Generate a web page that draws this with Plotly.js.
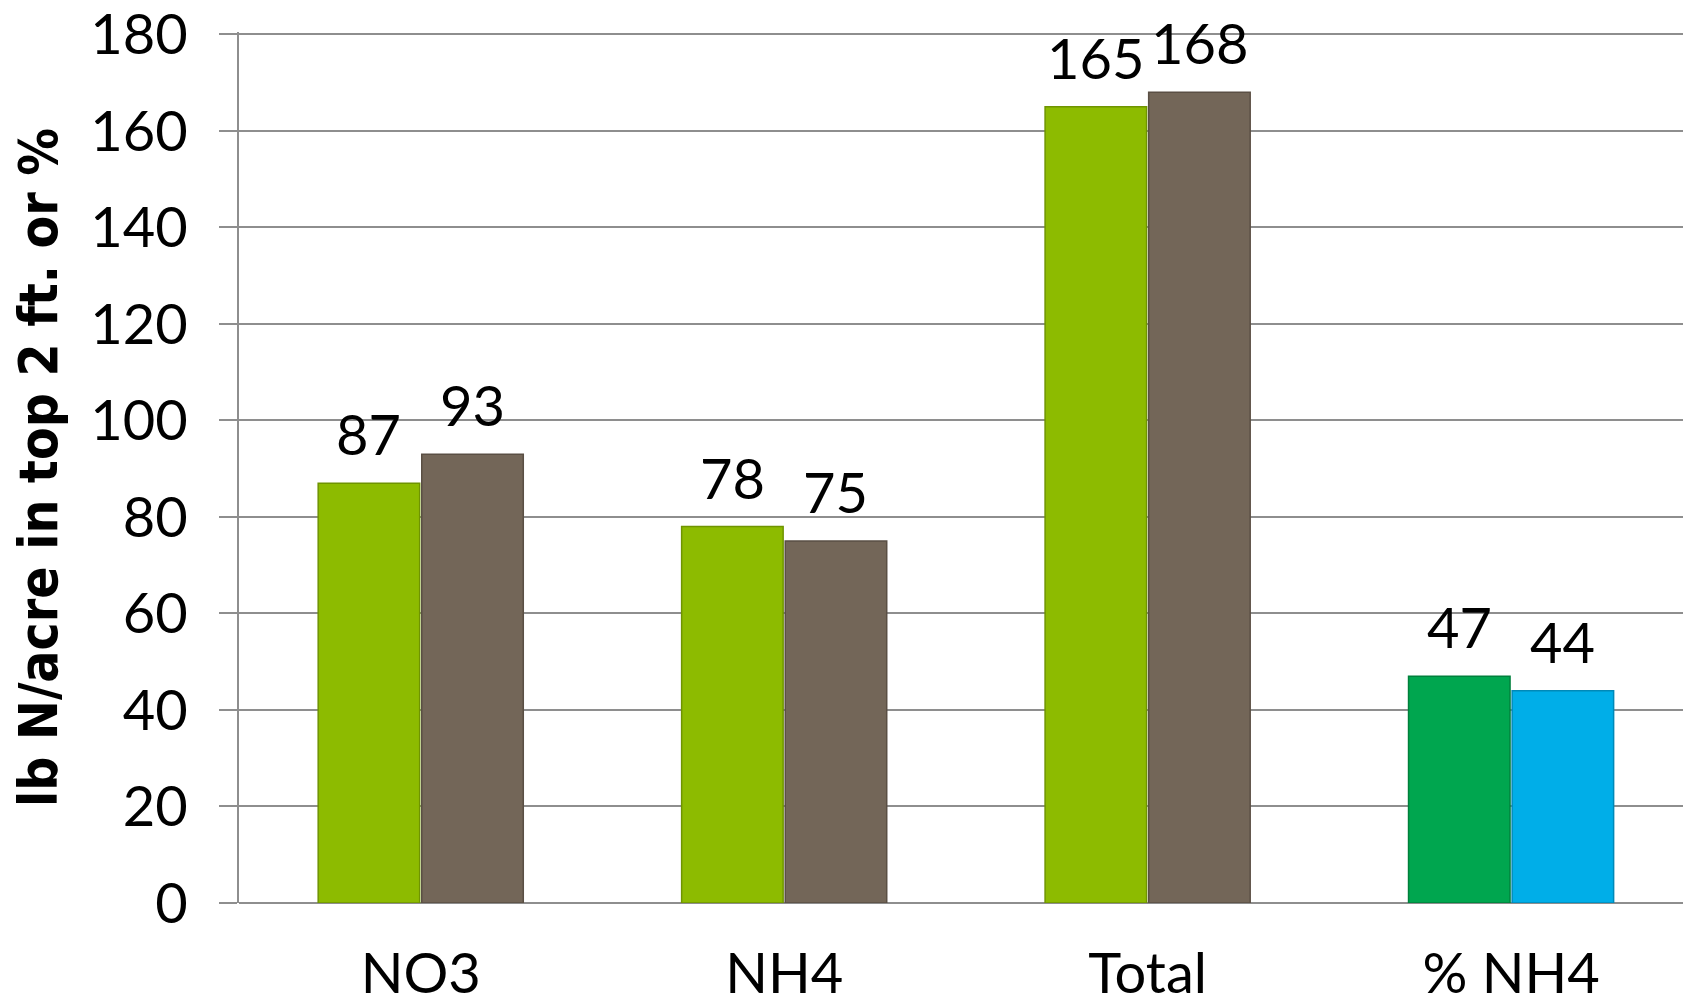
<!DOCTYPE html>
<html>
<head>
<meta charset="utf-8">
<script src="https://cdn.plot.ly/plotly-3.0.1.min.js"></script>
<style>
  html, body { margin: 0; padding: 0; background: #ffffff; }
  #chart { width: 1683px; height: 999px; }
</style>
</head>
<body>
<div id="chart"></div>
<script>
// Soil nitrogen in the top 2 ft: two sampling groups per measure
const categories = ['NO3', 'NH4', 'Total', '% NH4'];
const seriesA = [87, 78, 165, 47];
const seriesB = [93, 75, 168, 44];
const yTicks = [0, 20, 40, 60, 80, 100, 120, 140, 160, 180];

const colorsA = ['#8dbb00', '#8dbb00', '#8dbb00', '#00a64f'];
const colorsB = ['#736658', '#736658', '#736658', '#00aee8'];
const edgesA = ['#6f9400', '#6f9400', '#6f9400', '#00803c'];
const edgesB = ['#5a4f44', '#5a4f44', '#5a4f44', '#0089b8'];

const labelFont = { family: 'Lato, "Open Sans", sans-serif', size: 56, color: '#000000' };
const barGap = 0.43;

function barTrace(values, fill, edge) {
  return {
    type: 'bar',
    x: categories,
    y: values,
    marker: { color: fill, line: { color: edge, width: 1.5 } },
    hoverinfo: 'x+y',
    showlegend: false
  };
}

const data = [barTrace(seriesA, colorsA, edgesA), barTrace(seriesB, colorsB, edgesB)];

// value labels sit above each bar of the two-bar group
const halfStep = (1 - barGap) / 4;
const annotations = [];
[[seriesA, -halfStep], [seriesB, halfStep]].forEach(([values, shift]) => {
  values.forEach((v, i) => {
    annotations.push({
      x: i + shift, y: v, xref: 'x', yref: 'y',
      text: String(v), showarrow: false,
      xanchor: 'center', yanchor: 'bottom', yshift: 14,
      font: labelFont
    });
  });
});

const layout = {
  width: 1683,
  height: 999,
  margin: { l: 239, r: 0, t: 32, b: 96 },
  paper_bgcolor: '#ffffff',
  plot_bgcolor: '#ffffff',
  barmode: 'group',
  bargap: barGap,
  bargroupgap: 0.02,
  font: labelFont,
  annotations: annotations,
  xaxis: {
    type: 'category',
    range: [-0.5, 3.473],
    showgrid: false,
    showline: false,
    zeroline: false,
    ticks: '',
    ticklabelstandoff: 33,
    ticklabeloverflow: 'allow',
    tickfont: labelFont
  },
  yaxis: {
    range: [0, 180.5],
    tickvals: yTicks,
    showgrid: true,
    gridcolor: '#8e8e8e',
    gridwidth: 2,
    showline: true,
    linecolor: '#8e8e8e',
    linewidth: 2,
    zeroline: true,
    zerolinecolor: '#8e8e8e',
    zerolinewidth: 2,
    ticks: 'outside',
    ticklen: 18,
    tickwidth: 2,
    tickcolor: '#8e8e8e',
    ticklabelstandoff: 20,
    ticklabeloverflow: 'allow',
    tickfont: labelFont,
    title: {
      text: 'lb N/acre in top 2 ft. or %',
      font: { family: '"Liberation Sans Narrow", "DejaVu Sans Condensed", "Liberation Sans", sans-serif', size: 53, color: '#000000', weight: 'bold' },
      standoff: 16
    }
  }
};

Plotly.newPlot('chart', data, layout, { displayModeBar: false, staticPlot: true });
</script>
</body>
</html>
